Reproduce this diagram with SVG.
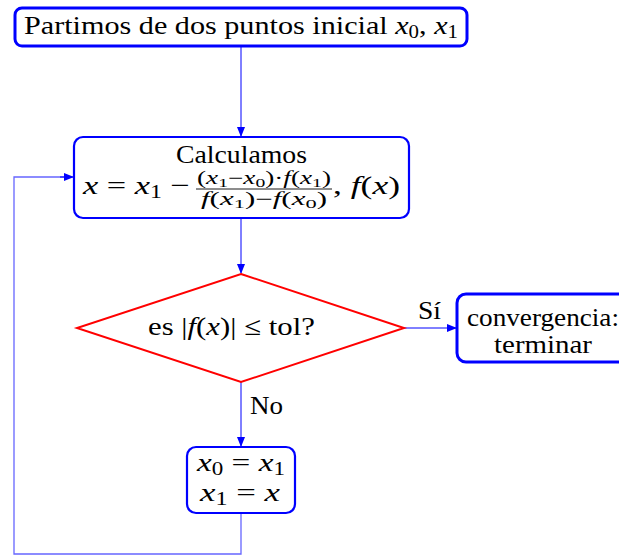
<svg xmlns="http://www.w3.org/2000/svg" width="619" height="558" viewBox="0 0 619 558">
<defs>
<marker id="ah" markerWidth="10" markerHeight="8" refX="9" refY="4" orient="auto" markerUnits="userSpaceOnUse">
<path d="M0,0 L10,4 L0,8 Z" fill="#0000ff"/>
</marker>
<style>
.box{fill:#fff;stroke:#0000ff;stroke-width:2.2}
.bold{stroke-width:3}
.dia{fill:#fff;stroke:#ff0000;stroke-width:2}
.t{font-family:"Liberation Serif","DejaVu Serif",serif;font-size:26px;fill:#000}
.s{font-size:18px}
.i{font-style:italic}
.c{stroke:#0000ff;stroke-width:1;fill:none}
.loop{stroke:#6666ff;stroke-width:1.3;fill:none}
</style>
</defs>
<g id="connectors">
<line class="c" x1="241" y1="46" x2="241" y2="136" marker-end="url(#ah)"/>
<line class="c" x1="241" y1="218" x2="241" y2="273" marker-end="url(#ah)"/>
<line class="c" x1="404" y1="328" x2="456" y2="328" marker-end="url(#ah)"/>
<line class="c" x1="241" y1="382" x2="241" y2="446" marker-end="url(#ah)"/>
<polyline class="loop" points="241,513 241,554 14,554 14,177 70,177"/>
<line class="c" x1="60" y1="177" x2="73" y2="177" marker-end="url(#ah)"/>
<text class="t" x="418" y="319" textLength="23" lengthAdjust="spacingAndGlyphs">Sí</text>
<text class="t" x="250" y="414" textLength="33" lengthAdjust="spacingAndGlyphs">No</text>
</g>
<g id="start">
<rect class="box bold" x="15" y="8" width="452" height="38" rx="7"/>
<text class="t" x="24" y="34" textLength="434" lengthAdjust="spacingAndGlyphs">Partimos de dos puntos inicial <tspan class="i">x</tspan><tspan font-size="18" dy="4">0</tspan><tspan dy="-4">, </tspan><tspan class="i">x</tspan><tspan font-size="18" dy="4">1</tspan></text>
</g>
<g id="calc">
<rect class="box" x="74" y="137" width="335" height="81" rx="9"/>
<text class="t" x="176" y="163" textLength="131" lengthAdjust="spacingAndGlyphs">Calculamos</text>
<text class="t" x="83" y="194" textLength="107" lengthAdjust="spacingAndGlyphs"><tspan class="i">x</tspan> = <tspan class="i">x</tspan><tspan font-size="18" dy="4">1</tspan><tspan dy="-4"> −</tspan></text>
<text class="t s" x="197" y="184" textLength="134" lengthAdjust="spacingAndGlyphs">(<tspan class="i">x</tspan><tspan font-size="13" dy="3">1</tspan><tspan dy="-3">−</tspan><tspan class="i">x</tspan><tspan font-size="13" dy="3">0</tspan><tspan dy="-3">)·</tspan><tspan class="i">f</tspan>(<tspan class="i">x</tspan><tspan font-size="13" dy="3">1</tspan><tspan dy="-3">)</tspan></text>
<line x1="196" y1="189" x2="332" y2="189" stroke="#000" stroke-width="0.9"/>
<text class="t s" x="201" y="205" textLength="126" lengthAdjust="spacingAndGlyphs"><tspan class="i">f</tspan>(<tspan class="i">x</tspan><tspan font-size="13" dy="3">1</tspan><tspan dy="-3">)−</tspan><tspan class="i">f</tspan>(<tspan class="i">x</tspan><tspan font-size="13" dy="3">0</tspan><tspan dy="-3">)</tspan></text>
<text class="t" x="333" y="194" textLength="67" lengthAdjust="spacingAndGlyphs">, <tspan class="i">f</tspan>(<tspan class="i">x</tspan>)</text>
</g>
<g id="decision">
<polygon class="dia" points="241,274 404,328 241,382 77,328"/>
<text class="t" x="148" y="335" textLength="167" lengthAdjust="spacingAndGlyphs">es |<tspan class="i">f</tspan>(<tspan class="i">x</tspan>)| ≤ tol?</text>
</g>
<g id="converge">
<rect class="box bold" x="457" y="294" width="170" height="68" rx="9"/>
<text class="t" x="467" y="326" textLength="152" lengthAdjust="spacingAndGlyphs">convergencia:</text>
<text class="t" x="494" y="353" textLength="98" lengthAdjust="spacingAndGlyphs">terminar</text>
</g>
<g id="update">
<rect class="box" x="187" y="447" width="108" height="66" rx="9"/>
<text class="t" x="197" y="471" textLength="88" lengthAdjust="spacingAndGlyphs"><tspan class="i">x</tspan><tspan font-size="18" dy="4">0</tspan><tspan dy="-4"> = </tspan><tspan class="i">x</tspan><tspan font-size="18" dy="4">1</tspan></text>
<text class="t" x="200" y="501" textLength="80" lengthAdjust="spacingAndGlyphs"><tspan class="i">x</tspan><tspan font-size="18" dy="4">1</tspan><tspan dy="-4"> = </tspan><tspan class="i">x</tspan></text>
</g>
</svg>
